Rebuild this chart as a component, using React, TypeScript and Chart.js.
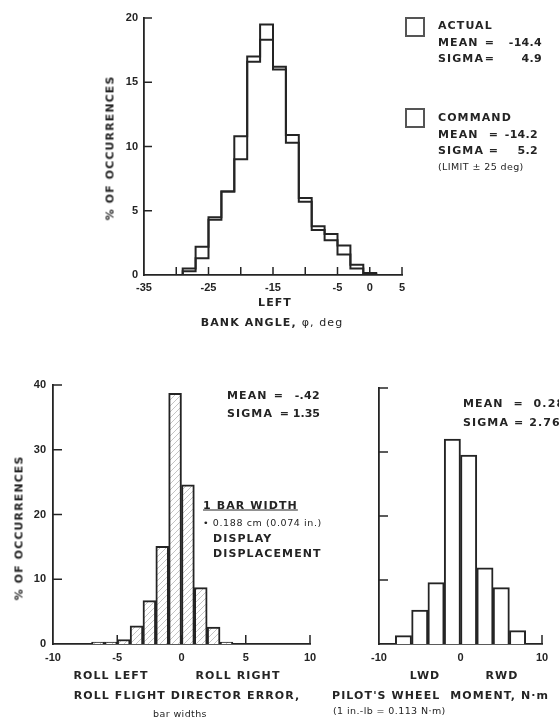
import React, { useEffect, useRef } from "react";
import { Chart, registerables } from "chart.js";

Chart.register(...registerables);

// ---------- DATA ----------
// Top: bank angle histogram, 2-deg bins (bin edges)
const bankEdges = [-29, -27, -25, -23, -21, -19, -17, -15, -13, -11, -9, -7, -5, -3, -1, 1, 3];
const bankActual = [0.1, 0.3, 1.3, 4.5, 6.5, 10.8, 17.0, 19.5, 16.2, 10.9, 5.7, 3.5, 2.7, 1.6, 0.5, 0.1];
const bankCommand = [0.2, 0.5, 2.2, 4.3, 6.5, 9.0, 16.6, 18.3, 16.0, 10.3, 6.0, 3.8, 3.2, 2.3, 0.8, 0.15];
const bankXLabels = [-35, -25, -15, -5, 0, 5];
const bankYTicks = [0, 5, 10, 15, 20];

// Bottom left: roll flight director error, 1 bar-width bins (centres)
const rollCenters = [-6.5, -5.5, -4.5, -3.5, -2.5, -1.5, -0.5, 0.5, 1.5, 2.5, 3.5];
const rollPct = [0.3, 0.3, 0.7, 2.8, 6.7, 15.1, 38.7, 24.6, 8.7, 2.6, 0.3];
const rollXLabels = [-10, -5, 0, 5, 10];
const rollYTicks = [0, 10, 20, 30, 40];

// Bottom right: pilot's wheel moment, 2-unit bins (centres)
const wheelCenters = [-7, -5, -3, -1, 1, 3, 5, 7];
const wheelPct = [1.3, 5.3, 9.6, 32.0, 29.5, 11.9, 8.8, 2.1];
const wheelXLabels = [-10, 0, 10];

// ---------- STYLE ----------
const INK = "#242424";
const TICK_FONT = { family: "'Liberation Sans', Arial, sans-serif", size: 11, weight: "bold" as const };
const TXT_FONT = "'DejaVu Sans', 'Liberation Sans', sans-serif";

const innerTicks = {
  id: "innerTicks",
  afterDraw(chart: any, _args: any, opts: any) {
    const { ctx } = chart;
    const x = chart.scales.x;
    const y = chart.scales.y;
    ctx.save();
    ctx.strokeStyle = INK;
    ctx.lineWidth = 1.5;
    (opts.x || []).forEach((v: number) => {
      const px = x.getPixelForValue(v);
      ctx.beginPath();
      ctx.moveTo(px, y.bottom);
      ctx.lineTo(px, y.bottom - opts.len);
      ctx.stroke();
    });
    (opts.y || []).forEach((v: number) => {
      const py = y.getPixelForValue(v);
      ctx.beginPath();
      ctx.moveTo(x.left, py);
      ctx.lineTo(x.left + opts.len, py);
      ctx.stroke();
    });
    ctx.restore();
  },
};

function hatch(): CanvasPattern | string {
  const c = document.createElement("canvas");
  c.width = 6;
  c.height = 6;
  const g = c.getContext("2d");
  if (!g) return "#fff";
  g.fillStyle = "#fff";
  g.fillRect(0, 0, 6, 6);
  g.strokeStyle = "#c4c4c4";
  g.lineWidth = 1;
  g.beginPath();
  g.moveTo(0, 6);
  g.lineTo(6, 0);
  g.moveTo(-1, 1);
  g.lineTo(1, -1);
  g.moveTo(5, 7);
  g.lineTo(7, 5);
  g.stroke();
  return g.createPattern(c, "repeat") || "#fff";
}

function stepPoints(edges: number[], vals: number[]) {
  const pts = [{ x: edges[0], y: 0 }];
  vals.forEach((v, i) => pts.push({ x: edges[i], y: v }));
  pts.push({ x: edges[edges.length - 1], y: 0 });
  return pts;
}

function axisX(min: number, max: number, step: number, shown: number[], pad: number, h: number) {
  return {
    type: "linear" as const,
    min,
    max,
    offset: false,
    grid: { display: false, drawTicks: false, offset: false },
    border: { display: true, color: INK, width: 1.8 },
    ticks: {
      stepSize: step,
      autoSkip: false,
      maxRotation: 0,
      padding: pad,
      color: INK,
      font: TICK_FONT,
      callback: (v: any) => (shown.includes(Number(v)) ? String(v) : ""),
    },
    afterFit: (s: any) => {
      s.height = h;
    },
  };
}

function axisY(max: number, step: number, shown: number[], pad: number, w: number) {
  return {
    type: "linear" as const,
    min: 0,
    max,
    grid: { display: false, drawTicks: false },
    border: { display: true, color: INK, width: 1.8 },
    ticks: {
      stepSize: step,
      padding: pad,
      color: INK,
      font: TICK_FONT,
      callback: (v: any) => (shown.includes(Number(v)) ? String(v) : ""),
    },
    afterFit: (s: any) => {
      s.width = w;
    },
  };
}

function ChartBox(props: { left: number; top: number; width: number; height: number; make: () => any }) {
  const ref = useRef<HTMLCanvasElement | null>(null);
  useEffect(() => {
    if (!ref.current) return;
    const chart = new Chart(ref.current, props.make());
    return () => chart.destroy();
  }, []);
  return (
    <canvas
      ref={ref}
      width={props.width}
      height={props.height}
      style={{ position: "absolute", left: props.left, top: props.top, width: props.width, height: props.height }}
    />
  );
}

function T(props: {
  x: number;
  y: number;
  a?: "l" | "c" | "r";
  size?: number;
  ls?: number;
  rot?: boolean;
  bold?: boolean;
  u?: boolean;
  children: any;
}) {
  const a = props.a || "c";
  const tx = a === "l" ? "0" : a === "c" ? "-50%" : "-100%";
  return (
    <div
      style={{
        position: "absolute",
        left: props.x,
        top: props.y,
        transform: `translate(${tx}, -50%)${props.rot ? " rotate(-90deg)" : ""}`,
        transformOrigin: props.rot ? "50% 50%" : undefined,
        whiteSpace: "pre",
        fontFamily: TXT_FONT,
        fontWeight: props.bold === false ? 400 : 700,
        fontSize: props.size || 11,
        letterSpacing: props.ls ?? 1.1,
        color: INK,
        lineHeight: 1,
        textDecoration: props.u ? "underline" : undefined,
      }}
    >
      {props.children}
    </div>
  );
}

const baseOpts = {
  responsive: false,
  animation: false as const,
  events: [] as any[],
};

export default function App() {
  const makeTop = () => ({
    type: "line",
    data: {
      datasets: [
        {
          label: "ACTUAL",
          data: stepPoints(bankEdges, bankActual),
          stepped: "after",
          borderColor: INK,
          borderWidth: 2,
          pointRadius: 0,
          fill: false,
        },
        {
          label: "COMMAND",
          data: stepPoints(bankEdges, bankCommand),
          stepped: "after",
          borderColor: INK,
          borderWidth: 2,
          pointRadius: 0,
          fill: false,
        },
      ],
    },
    options: {
      ...baseOpts,
      layout: { padding: { left: 104, right: 38, top: 18, bottom: 1 } },
      plugins: {
        legend: { display: false },
        tooltip: { enabled: false },
        innerTicks: { x: [-30, -25, -20, -15, -10, -5, 0, 5], y: [5, 10, 15, 20], len: 8 },
      },
      scales: {
        x: axisX(-35, 5, 5, bankXLabels, 6, 24),
        y: axisY(20, 5, bankYTicks, 6, 40),
      },
    },
    plugins: [innerTicks],
  });

  const makeRoll = () => ({
    type: "bar",
    data: {
      datasets: [
        {
          label: "ROLL FLIGHT DIRECTOR ERROR",
          data: rollCenters.map((c, i) => ({ x: c, y: rollPct[i] })),
          backgroundColor: hatch(),
          borderColor: INK,
          borderWidth: 2,
          barPercentage: 1,
          categoryPercentage: 1,
        },
      ],
    },
    options: {
      ...baseOpts,
      layout: { padding: { left: 23, right: 20, top: 25, bottom: 2 } },
      plugins: {
        legend: { display: false },
        tooltip: { enabled: false },
        innerTicks: { x: [-5, 0, 5, 10], y: [10, 20, 30, 40], len: 9 },
      },
      scales: {
        x: axisX(-10, 10, 5, rollXLabels, 7, 24),
        y: axisY(40, 10, rollYTicks, 7, 30),
      },
    },
    plugins: [innerTicks],
  });

  const makeWheel = () => ({
    type: "bar",
    data: {
      datasets: [
        {
          label: "PILOT'S WHEEL MOMENT",
          data: wheelCenters.map((c, i) => ({ x: c, y: wheelPct[i] })),
          backgroundColor: "#ffffff",
          borderColor: INK,
          borderWidth: 2,
          barPercentage: 1,
          categoryPercentage: 1,
        },
      ],
    },
    options: {
      ...baseOpts,
      layout: { padding: { left: 19, right: 17, top: 28, bottom: 2 } },
      plugins: {
        legend: { display: false },
        tooltip: { enabled: false },
        innerTicks: { x: [10], y: [10, 20, 30, 40], len: 9 },
      },
      scales: {
        x: axisX(-10, 10, 10, wheelXLabels, 7, 24),
        y: axisY(40, 10, [], 7, 20),
      },
    },
    plugins: [innerTicks],
  });

  const box = (x: number, y: number) => (
    <div
      style={{
        position: "absolute",
        left: x,
        top: y,
        width: 16,
        height: 16,
        border: `2px solid #555`,
        background: "#fff",
      }}
    />
  );

  return (
    <div
      style={{
        position: "absolute",
        left: 0,
        top: 0,
        width: 559,
        height: 721,
        overflow: "hidden",
        background: "#fff",
        filter: "blur(0.4px)",
      }}
    >
      <ChartBox left={0} top={0} width={440} height={300} make={makeTop} />
      <ChartBox left={0} top={360} width={330} height={310} make={makeRoll} />
      <ChartBox left={340} top={360} width={219} height={310} make={makeWheel} />

      {/* top chart texts */}
      <T x={110} y={148} rot>% OF OCCURRENCES</T>
      <T x={275} y={302}>LEFT</T>
      <T x={272} y={322}>
        BANK ANGLE, <span style={{ fontWeight: 400 }}>φ, deg</span>
      </T>
      {box(405, 17)}
      <T x={438} y={25} a="l">ACTUAL</T>
      <T x={438} y={42} a="l">MEAN</T>
      <T x={490} y={42}>=</T>
      <T x={542} y={42} a="r" ls={0.3}>-14.4</T>
      <T x={438} y={58} a="l">SIGMA</T>
      <T x={490} y={58}>=</T>
      <T x={542} y={58} a="r" ls={0.3}>4.9</T>
      {box(405, 108)}
      <T x={438} y={117} a="l">COMMAND</T>
      <T x={438} y={134} a="l">MEAN</T>
      <T x={494} y={134}>=</T>
      <T x={538} y={134} a="r" ls={0.3}>-14.2</T>
      <T x={438} y={150} a="l">SIGMA</T>
      <T x={494} y={150}>=</T>
      <T x={538} y={150} a="r" ls={0.3}>5.2</T>
      <T x={438} y={167} a="l" size={9.5} ls={0.4} bold={false}>(LIMIT ± 25 deg)</T>

      {/* bottom-left texts */}
      <T x={19} y={528} rot>% OF OCCURRENCES</T>
      <T x={227} y={395} a="l">MEAN</T>
      <T x={279} y={395}>=</T>
      <T x={320} y={395} a="r" ls={0.3}>-.42</T>
      <T x={227} y={413} a="l">SIGMA</T>
      <T x={285} y={413}>=</T>
      <T x={320} y={413} a="r" ls={0}>1.35</T>
      <T x={203} y={505} a="l" u>1 BAR WIDTH</T>
      <T x={203} y={523} a="l" size={9.5} ls={0.6} bold={false}>• 0.188 cm (0.074 in.)</T>
      <T x={213} y={538} a="l">DISPLAY</T>
      <T x={213} y={553} a="l">DISPLACEMENT</T>
      <T x={111} y={675}>ROLL LEFT</T>
      <T x={238} y={675}>ROLL RIGHT</T>
      <T x={187} y={695}>ROLL FLIGHT DIRECTOR ERROR,</T>
      <T x={180} y={714} size={9.5} ls={0.4} bold={false}>bar widths</T>

      {/* bottom-right texts */}
      <T x={463} y={403} a="l">MEAN  =  0.28</T>
      <T x={463} y={422} a="l">SIGMA = 2.76</T>
      <T x={425} y={675}>LWD</T>
      <T x={502} y={675}>RWD</T>
      <T x={332} y={695} a="l">PILOT'S WHEEL  MOMENT, N·m</T>
      <T x={333} y={711} a="l" size={9.5} ls={0.4} bold={false}>(1 in.-lb = 0.113 N·m)</T>
    </div>
  );
}
